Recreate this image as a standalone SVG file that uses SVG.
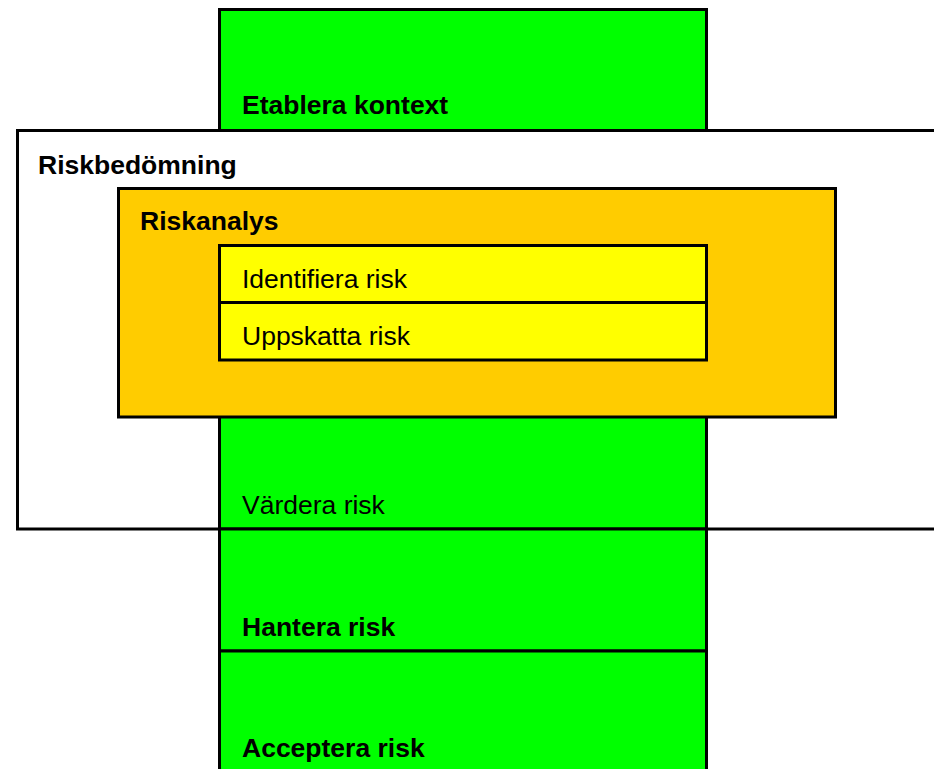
<svg xmlns="http://www.w3.org/2000/svg" width="934" height="769" viewBox="0 0 934 769">
<style>
  .box { stroke: #000; stroke-width: 3; }
  .green { fill: #00FF00; }
  .orange { fill: #FFCC00; }
  .yellow { fill: #FFFF00; }
  .white { fill: #FFFFFF; }
  text { font-family: "Liberation Sans", Arial, sans-serif; font-size: 26.5px; fill: #000; }
  .b { font-weight: bold; }
</style>
<rect x="0" y="0" width="934" height="769" fill="#FFFFFF"/>
<g id="etablera-kontext">
  <rect class="box green" x="219.5" y="9.5" width="487" height="140"/>
  <text class="b" x="242" y="114">Etablera kontext</text>
</g>
<g id="riskbedomning">
  <rect class="box white" x="17.5" y="130.5" width="930" height="398.5"/>
  <text class="b" x="38" y="174">Riskbedömning</text>
</g>
<g id="vardera-risk">
  <rect class="box green" x="219.5" y="300" width="487" height="229"/>
  <text x="242" y="514">Värdera risk</text>
</g>
<g id="riskanalys">
  <rect class="box orange" x="118.5" y="188.5" width="717" height="228.5"/>
  <text class="b" x="140" y="230">Riskanalys</text>
</g>
<g id="identifiera-risk">
  <rect class="box yellow" x="219.5" y="245.5" width="487" height="57"/>
  <text x="242" y="288">Identifiera risk</text>
</g>
<g id="uppskatta-risk">
  <rect class="box yellow" x="219.5" y="302.5" width="487" height="57.5"/>
  <text x="242" y="345">Uppskatta risk</text>
</g>
<g id="hantera-risk">
  <rect class="box green" x="219.5" y="529" width="487" height="122"/>
  <text class="b" x="242" y="636">Hantera risk</text>
</g>
<g id="acceptera-risk">
  <rect class="box green" x="219.5" y="651" width="487" height="130"/>
  <text class="b" x="242" y="757">Acceptera risk</text>
</g>
<g id="connectors"></g>
</svg>
